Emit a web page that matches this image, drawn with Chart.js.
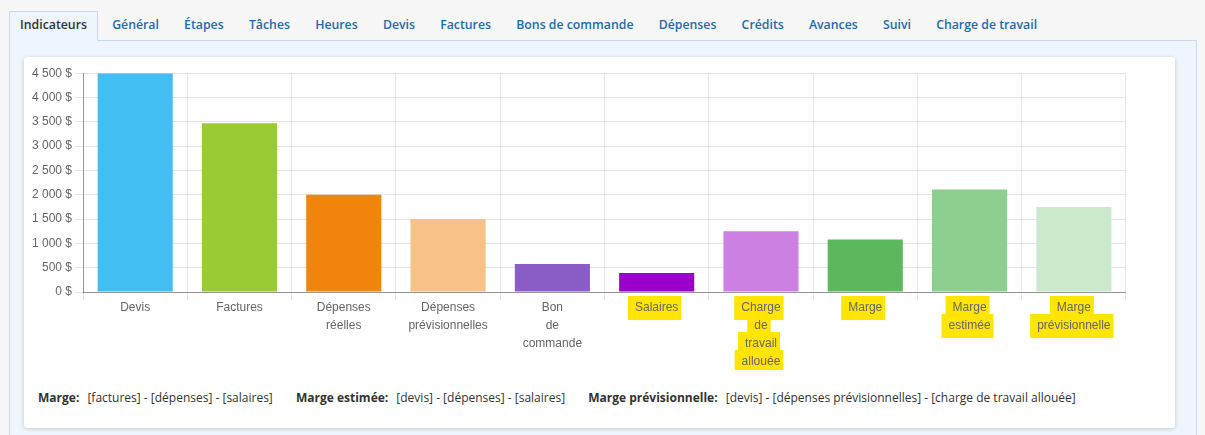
<!DOCTYPE html>
<html lang="fr">
<head>
<meta charset="utf-8">
<title>Indicateurs</title>
<script src="https://cdn.jsdelivr.net/npm/chart.js@4/dist/chart.umd.min.js"></script>
<style>
  body { margin: 0; background: #f7f7f7; font-family: "Open Sans", sans-serif; width: 1205px; height: 435px; overflow: hidden; position: relative; }
  .tabs { position: absolute; left: 9px; top: 11px; margin: 0; padding: 0; list-style: none; display: flex; z-index: 2; }
  .tabs li { height: 30px; line-height: 26px; padding: 0 10px; margin-right: 3.2px; font-size: 12.3px; font-weight: 600; color: #1b6bb0; box-sizing: border-box; border: 1px solid transparent; border-bottom: none; }
  .tabs li.active { background: #eef5fd; border-color: #c6d9f1; color: #333; }
  .panel { position: absolute; left: 9px; top: 40px; width: 1188px; height: 410px; background: #eef5fd; border: 1px solid #c6d9f1; box-sizing: border-box; }
  .card { position: absolute; left: 24px; top: 57px; width: 1151px; height: 371px; background: #fff; border-radius: 3px; box-shadow: 0 1px 4px rgba(0,0,0,.18); }
  .chartbox { position: absolute; left: 29px; top: 63px; width: 1097px; height: 307px; }
  .legend { position: absolute; left: 38px; top: 389px; font-size: 12px; color: #333; white-space: nowrap; }
  .legend span { margin-right: 20px; }
  .legend b { font-weight: 700; margin-right: 5px; }
</style>
</head>
<body>
<ul class="tabs">
  <li class="active">Indicateurs</li>
  <li>Général</li>
  <li>Étapes</li>
  <li>Tâches</li>
  <li>Heures</li>
  <li>Devis</li>
  <li>Factures</li>
  <li>Bons de commande</li>
  <li>Dépenses</li>
  <li>Crédits</li>
  <li>Avances</li>
  <li>Suivi</li>
  <li>Charge de travail</li>
</ul>
<div class="panel"></div>
<div class="card"></div>
<div class="chartbox"><canvas id="indicateurs-bar"></canvas></div>
<div class="legend">
  <span><b>Marge:</b> [factures] - [dépenses] - [salaires]</span>
  <span><b>Marge estimée:</b> [devis] - [dépenses] - [salaires]</span>
  <span><b>Marge prévisionnelle:</b> [devis] - [dépenses prévisionnelles] - [charge de travail allouée]</span>
</div>
<script>
var categories = [
  "Devis",
  "Factures",
  ["Dépenses", "réelles"],
  ["Dépenses", "prévisionnelles"],
  ["Bon", "de", "commande"],
  "Salaires",
  ["Charge", "de", "travail", "allouée"],
  "Marge",
  ["Marge", "estimée"],
  ["Marge", "prévisionnelle"]
];
var amounts = [4500, 3470, 2000, 1500, 575, 390, 1250, 1080, 2110, 1750];
var highlighted = [5, 6, 7, 8, 9];
var barColors = ["#42bef2", "#9bcb34", "#f2850c", "#f7c187", "#8a5dc6",
                 "#9900cc", "#cc80e2", "#5cb85c", "#8dcf8e", "#cde9cd"];

function formatMoney(v) {
  return String(v).replace(/\B(?=(\d{3})+(?!\d))/g, " ") + " $";
}

// yellow background behind some x labels
var highlightLabels = {
  id: 'highlightLabels',
  beforeDraw: function(chart) {
    var scale = chart.scales.x;
    var items = scale.getLabelItems();
    var ctx = chart.ctx;
    ctx.save();
    ctx.fillStyle = "#ffe500";
    items.forEach(function(item, i) {
      if (highlighted.indexOf(i) < 0) return;
      var lines = Array.isArray(item.label) ? item.label : [item.label];
      ctx.font = item.font.string;
      var x = item.options.translation[0];
      var y = item.options.translation[1] + item.textOffset;
      lines.forEach(function(line, j) {
        var w = ctx.measureText(line).width;
        var cy = y + j * item.font.lineHeight;
        ctx.fillRect(x - w / 2 - 7, cy - 12, w + 10, 24);
      });
    });
    ctx.restore();
  }
};

new Chart(document.getElementById("indicateurs-bar"), {
  type: 'bar',
  data: {
    labels: categories,
    datasets: [{
      data: amounts,
      backgroundColor: barColors,
      borderWidth: 0
    }]
  },
  plugins: [highlightLabels],
  options: {
    responsive: true,
    maintainAspectRatio: false,
    animation: false,
    layout: { padding: 0 },
    plugins: {
      legend: { display: false },
      tooltip: { enabled: false }
    },
    scales: {
      x: {
        grid: { color: "rgba(0,0,0,0.1)", tickLength: 8 },
        border: { color: "rgba(0,0,0,0.35)" },
        ticks: {
          color: "#666",
          padding: -1,
          maxRotation: 0,
          autoSkip: false,
          font: { family: "'Liberation Sans', Arial, sans-serif", size: 12, lineHeight: 1.5 }
        }
      },
      y: {
        min: 0,
        max: 4500,
        grid: { color: "rgba(0,0,0,0.1)", tickLength: 8 },
        border: { color: "rgba(0,0,0,0.35)" },
        ticks: {
          stepSize: 500,
          color: "#666",
          padding: 3,
          font: { family: "'Liberation Sans', Arial, sans-serif", size: 12 },
          callback: function(v) { return formatMoney(v); }
        }
      }
    }
  }
});
</script>
</body>
</html>
